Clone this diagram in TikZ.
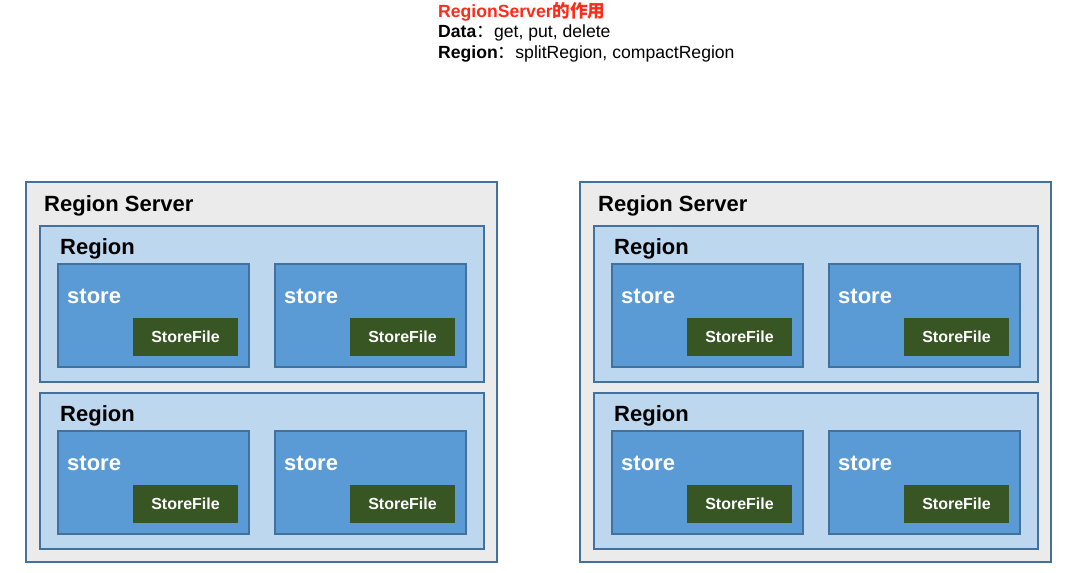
\documentclass[tikz,border=0pt]{standalone}
\usepackage{fontspec}
\setmainfont{Liberation Sans}
\newfontfamily\cjk{Noto Sans CJK SC}
\definecolor{srvfill}{HTML}{EBEBEB}
\definecolor{regfill}{HTML}{BDD7EE}
\definecolor{stofill}{HTML}{5B9BD5}
\definecolor{sffill}{HTML}{375623}
\definecolor{edge}{HTML}{41719C}
\definecolor{titlered}{HTML}{FF2A1A}
\tikzset{
  boxbase/.style={draw=edge, line width=1.3pt, anchor=north west, inner sep=0pt, outer sep=0pt},
  server/.style={boxbase, fill=srvfill, minimum width=471pt, minimum height=380pt},
  regionbox/.style={boxbase, fill=regfill, minimum width=444pt, minimum height=156pt},
  storebox/.style={boxbase, fill=stofill, minimum width=191pt, minimum height=103pt},
  sfbox/.style={anchor=north west, fill=sffill, inner sep=0pt, outer sep=0pt, minimum width=105pt, minimum height=38pt, text=white, font=\fontsize{16}{18}\selectfont\bfseries},
  bigtxt/.style={anchor=base west, inner sep=0pt, font=\fontsize{22}{26}\selectfont\bfseries},
  storetxt/.style={bigtxt, text=white},
  hdr/.style={anchor=base west, inner sep=0pt, font=\fontsize{17.6}{20}\selectfont}
}
\begin{document}
\begin{tikzpicture}[x=1pt,y=-1pt]
\useasboundingbox (0,0) rectangle (1066,573);
\fill[white] (0,0) rectangle (1066,573);
% header
\node[hdr, text=titlered, font=\fontsize{17.6}{20}\selectfont\bfseries] (h1) at (438,17) {RegionServer{\cjk 的作用}};
\node[hdr] (h2) at (438,37) {\textbf{Data}{\cjk ：}get, put, delete};
\node[hdr] (h3) at (438,58) {\textbf{Region}{\cjk ：}splitRegion, compactRegion};
\foreach \s/\dx in {1/0, 2/554} {
  \node[server] (s\s) at (26+\dx,182) {};
  \node[bigtxt] (s\s t) at (44+\dx,211) {Region Server};
  \foreach \r/\dy in {1/0, 2/167} {
    \node[regionbox] (s\s r\r) at (40+\dx,226+\dy) {};
    \node[bigtxt] (s\s r\r t) at (60+\dx,254+\dy) {Region};
    \foreach \k/\ex in {a/0, b/217} {
      \node[storebox] (s\s r\r\k) at (58+\dx+\ex,264+\dy) {};
      \node[storetxt] (s\s r\r\k t) at (67+\dx+\ex,303+\dy) {store};
      \node[sfbox] (s\s r\r\k f) at (133+\dx+\ex,318+\dy) {StoreFile};
    }
  }
}
\end{tikzpicture}
\end{document}
